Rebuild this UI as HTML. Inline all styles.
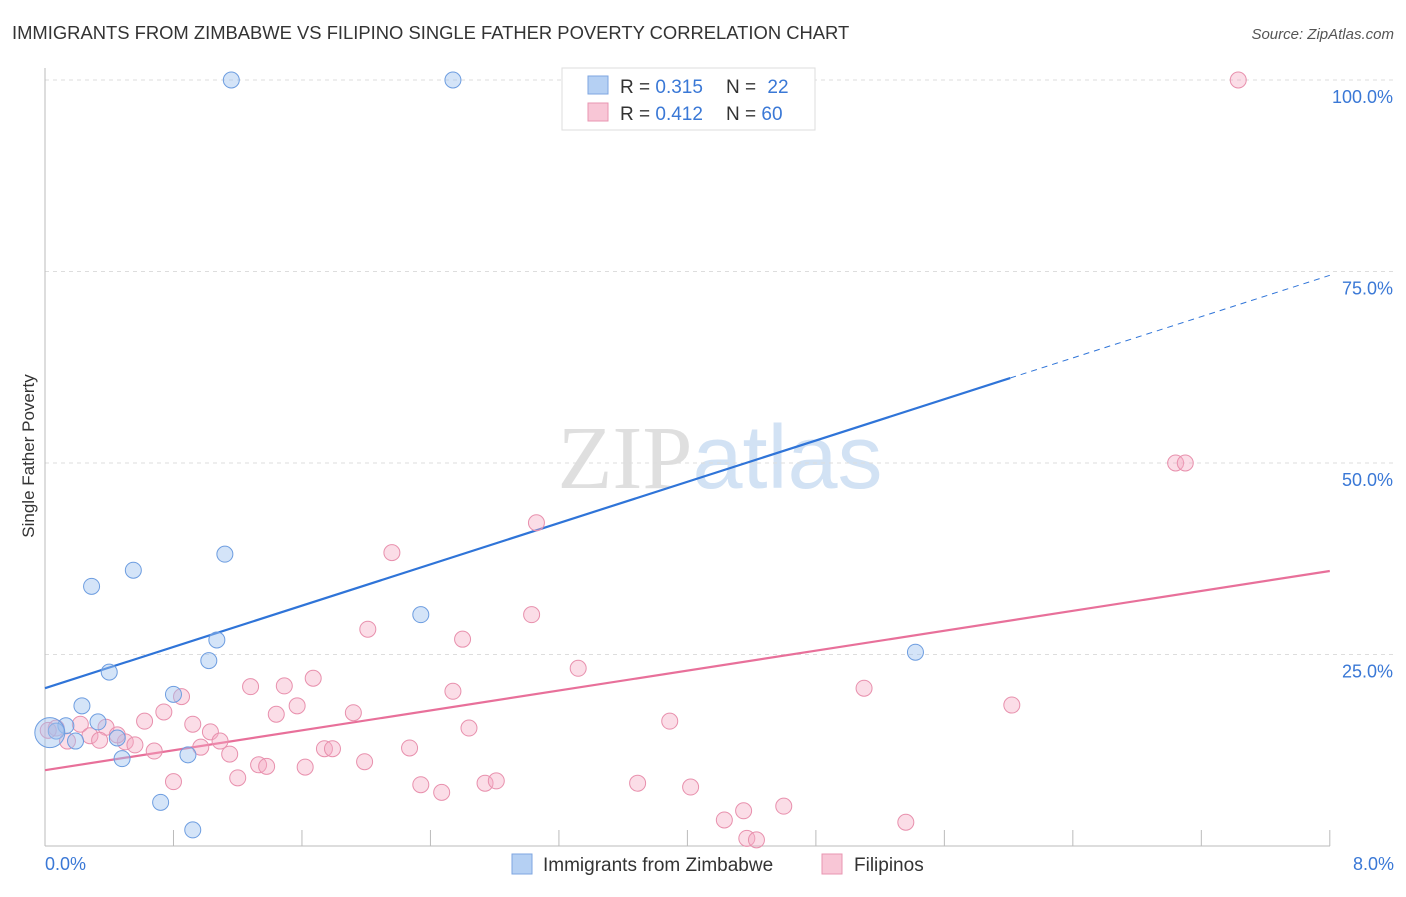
<!DOCTYPE html>
<html><head><meta charset="utf-8"><style>
body{margin:0;background:#fff;font-family:"Liberation Sans",sans-serif;}
svg text{font-family:"Liberation Sans",sans-serif;}
</style></head><body>
<svg id="chart" width="1406" height="892" xmlns="http://www.w3.org/2000/svg">
<text x="12" y="39" font-size="18.4" fill="#333">IMMIGRANTS FROM ZIMBABWE VS FILIPINO SINGLE FATHER POVERTY CORRELATION CHART</text>
<text x="1394" y="39" font-size="15" fill="#555" text-anchor="end" font-style="italic">Source: ZipAtlas.com</text>
<text x="720" y="488" font-size="90" text-anchor="middle" fill="#ddd" opacity="0.8"><tspan font-family="Liberation Serif" fill="#d8d8d8">ZIP</tspan><tspan fill="#c8dcf2">atlas</tspan></text>
<text transform="translate(34,456) rotate(-90)" font-size="17" fill="#333" text-anchor="middle">Single Father Poverty</text>
<g id="grid"></g><g id="axes"></g><g id="lines"></g><g id="points"></g>
<g>
<rect x="562" y="68" width="253" height="62" fill="#fff" stroke="#ddd"/>
<rect x="588" y="76" width="20" height="18" fill="#b5d0f3" stroke="#7ea6e0"/>
<text x="620" y="93" font-size="19" fill="#333">R = <tspan fill="#3a78d6">0.315</tspan></text>
<text x="726" y="93" font-size="19" fill="#333">N = <tspan dx="6" fill="#3a78d6">22</tspan></text>
<rect x="588" y="103" width="20" height="18" fill="#f8c6d6" stroke="#e896b1"/>
<text x="620" y="120" font-size="19" fill="#333">R = <tspan fill="#3a78d6">0.412</tspan></text>
<text x="726" y="120" font-size="19" fill="#333">N = <tspan fill="#3a78d6">60</tspan></text>
</g>
<g>
<rect x="512" y="854" width="20" height="20" fill="#b5d0f3" stroke="#7ea6e0"/>
<text x="543" y="871" font-size="19" fill="#333">Immigrants from Zimbabwe</text>
<rect x="822" y="854" width="20" height="20" fill="#f8c6d6" stroke="#e896b1"/>
<text x="854" y="871" font-size="19" fill="#333">Filipinos</text>
</g>
</svg>
<script>
const xTicks=[0,0.8,1.6,2.4,3.2,4.0,4.8,5.6,6.4,7.2,8.0];
const yTicks=[25,50,75,100];
const yTickLabels=["25.0%","50.0%","75.0%","100.0%"];
const xEndLabels=["0.0%","8.0%"];
const blueX=[1.16,2.54,0.29,0.55,1.12,2.34,1.07,1.02,0.40,0.80,0.23,0.33,0.13,0.07,0.19,0.45,0.48,0.89,0.72,0.92,5.42,0.03];
const blueY=[100,100,33.9,36.0,38.1,30.2,26.9,24.2,22.7,19.8,18.3,16.2,15.7,15.0,13.7,14.1,11.4,11.9,5.7,2.1,25.3,14.8];
const pinkX=[7.43,7.04,7.10,3.06,2.16,3.03,2.01,2.60,3.32,1.67,1.28,1.49,2.54,0.85,5.10,1.57,6.02,1.44,1.92,0.74,0.62,0.92,3.89,2.64,0.38,0.22,1.03,1.09,0.50,0.56,0.97,0.68,1.74,1.79,2.27,1.15,1.33,1.38,1.62,1.99,1.20,0.80,2.34,2.47,2.74,2.81,3.69,4.02,4.60,4.35,4.23,5.36,4.37,4.43,0.14,0.28,0.45,0.07,0.02,0.34];
const pinkY=[100,50.0,50.0,42.2,38.3,30.2,28.3,27.0,23.2,21.9,20.8,20.9,20.2,19.5,20.6,18.3,18.4,17.2,17.4,17.5,16.3,15.9,16.3,15.4,15.5,15.9,14.9,13.7,13.6,13.2,12.9,12.4,12.7,12.7,12.8,12.0,10.6,10.4,10.3,11.0,8.9,8.4,8.0,7.0,8.2,8.5,8.2,7.7,5.2,4.6,3.4,3.1,1.0,0.8,13.7,14.4,14.5,15.4,15.1,13.8];
const blueTrend=[20.6,74.5]; const blueSolidEnd=6.01;
const pinkTrend=[9.9,35.9];
const X=v=>45+v*160.6, Y=v=>846-v*7.66;
const NS="http://www.w3.org/2000/svg";
function mk(tag,attrs,parent){const e=document.createElementNS(NS,tag);for(const k in attrs)e.setAttribute(k,attrs[k]);document.getElementById(parent).appendChild(e);return e;}
yTicks.forEach((t,i)=>{
 const g=mk('line',{x1:45,x2:1394,y1:Y(t),y2:Y(t),stroke:'#ddd','stroke-dasharray':'4,4'},'grid');
 
 
 const tx=mk('text',{x:1393,y:Y(t)+23,'font-size':18,fill:'#3a78d6','text-anchor':'end'},'grid');
 tx.textContent=yTickLabels[i];
 
 
});
const ax=mk('line',{x1:45,x2:1330,y1:846,y2:846,stroke:'#bbb'},'axes');


const ay=mk('line',{x1:45,x2:45,y1:68,y2:846,stroke:'#bbb'},'axes');


xTicks.forEach(t=>{const l=mk('line',{x1:X(t),x2:X(t),y1:830,y2:846,stroke:'#bbb'},'axes');
 
 });
const l0=mk('text',{x:45,y:870,'font-size':18,fill:'#3a78d6'},'axes');l0.textContent=xEndLabels[0];


const l1=mk('text',{x:1394,y:870,'font-size':18,fill:'#3a78d6','text-anchor':'end'},'axes');l1.textContent=xEndLabels[1];


const bt=v=>blueTrend[0]+(blueTrend[1]-blueTrend[0])*v/8;
const pt=v=>pinkTrend[0]+(pinkTrend[1]-pinkTrend[0])*v/8;
const b1=mk('line',{x1:X(0),y1:Y(bt(0)),x2:X(blueSolidEnd),y2:Y(bt(blueSolidEnd)),stroke:'#2f74d8','stroke-width':2.2},'lines');


const b2=mk('line',{x1:X(blueSolidEnd),y1:Y(bt(blueSolidEnd)),x2:X(8),y2:Y(bt(8)),stroke:'#2f74d8','stroke-width':1,'stroke-dasharray':'6,5'},'lines');


const p1=mk('line',{x1:X(0),y1:Y(pt(0)),x2:X(8),y2:Y(pt(8)),stroke:'#e8709a','stroke-width':2.2},'lines');


pinkX.forEach((x,i)=>{const c=mk('circle',{cx:X(x),cy:Y(pinkY[i]),r:8,fill:'rgba(245,170,195,0.4)',stroke:'#e890ad','stroke-width':1},'points');
 
 });
blueX.forEach((x,i)=>{const c=mk('circle',{cx:X(x),cy:Y(blueY[i]),r:i===21?15:8,fill:'rgba(160,195,240,0.45)',stroke:'#6d9de0','stroke-width':1},'points');
 
 });
</script>
</body></html>
